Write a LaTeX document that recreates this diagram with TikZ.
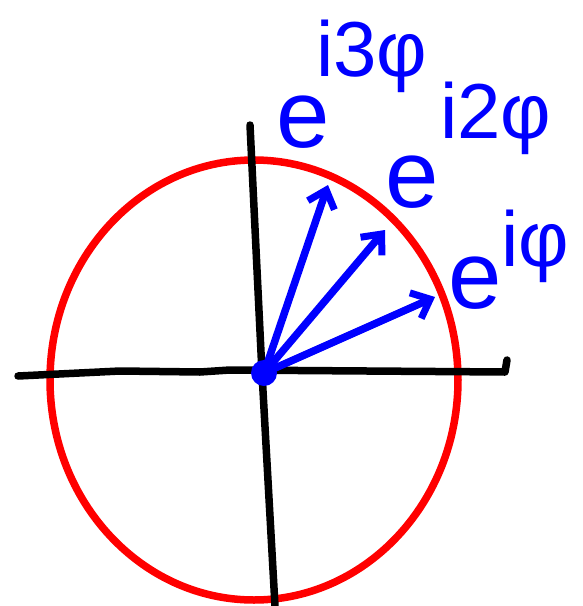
\documentclass[tikz,border=0pt]{standalone}
\usepackage{fontspec}
\setmainfont{Liberation Sans}
\usetikzlibrary{arrows.meta}
\tikzset{
  axis/.style={line width=7.5pt, line cap=round, line join=round, black},
  rim/.style={line width=7.5pt, red},
  phasor/.style={line width=7.5pt, line cap=round, blue,
    -{Straight Barb[length=16pt, width=28pt, line width=7pt]}},
  base/.style={blue, inner sep=0pt, font=\fontsize{96}{96}\selectfont},
  expo/.style={blue, inner sep=0pt, anchor=base west, font=\fontsize{78}{78}\selectfont},
}
\begin{document}
\begin{tikzpicture}[x=1pt, y=-1pt]
\useasboundingbox (0,0) rectangle (583,606);

% circle and axes
\draw[rim] (254,380) ellipse [x radius=204, y radius=220];
\draw[axis] (18,376) -- (120,371) -- (200,372) -- (230,370) -- (505,372) -- (507,360);
\draw[axis] (250,125) -- (262,373) -- (275,606);

% origin
\coordinate (o) at (264,373);
\coordinate (p1) at (435,297);
\coordinate (p2) at (385,230);
\coordinate (p3) at (328,185);
\draw[phasor] (o) -- (p1);
\draw[phasor] (o) -- (p2);
\draw[phasor] (o) -- (p3);
\fill[blue] (o) circle (13);

% labels
\node[base] (e1) at (475,283) {e};
\node[expo] (x1) at (501,266) {iφ};
\node[base] (e2) at (412,182) {e};
\node[expo] (x2) at (440,138) {i2φ};
\node[base] (e3) at (303,122) {e};
\node[expo] (x3) at (316,76) {i3φ};
\end{tikzpicture}
\end{document}
